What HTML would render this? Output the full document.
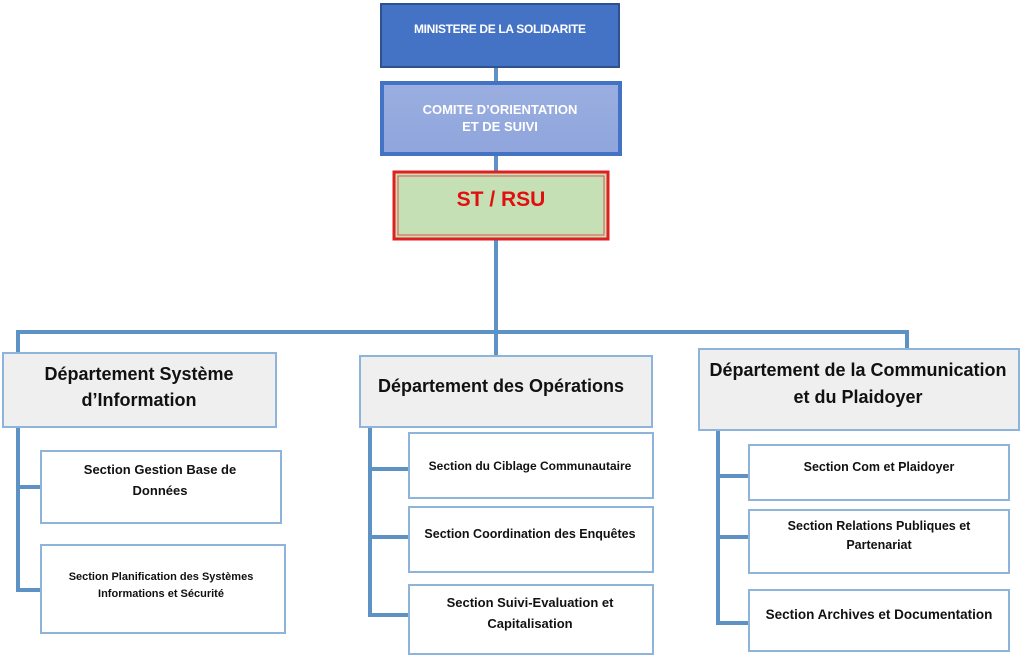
<!DOCTYPE html>
<html><head><meta charset="utf-8"><style>
html,body{margin:0;padding:0;background:#fff;}
svg text{font-family:"Liberation Sans",Arial,sans-serif;font-weight:bold;}
</style></head><body>
<svg width="1024" height="658" viewBox="0 0 1024 658" xmlns="http://www.w3.org/2000/svg">
<defs>
<linearGradient id="g2" x1="0" y1="0" x2="0" y2="1"><stop offset="0" stop-color="#9aaee0"/><stop offset="1" stop-color="#8fa5dc"/></linearGradient>
</defs>
<g stroke="#5f92c4" stroke-width="4" fill="none">
<line x1="496" y1="66" x2="496" y2="84"/>
<line x1="496" y1="154" x2="496" y2="172"/>
<line x1="496" y1="240" x2="496" y2="356"/>
<polyline points="18,353 18,332 907,332 907,349"/>
<polyline points="18,427 18,590 40,590"/>
<line x1="18" y1="487" x2="40" y2="487"/>
<polyline points="370,427 370,615 408,615"/>
<line x1="370" y1="469" x2="408" y2="469"/>
<line x1="370" y1="537" x2="408" y2="537"/>
<polyline points="718,430 718,623 748,623"/>
<line x1="718" y1="476" x2="748" y2="476"/>
<line x1="718" y1="537" x2="748" y2="537"/>
</g>
<rect x="381" y="4" width="238" height="63" fill="#4472c4" stroke="#2f528f" stroke-width="2"/>
<text x="500" y="33" font-size="12" fill="#fff" text-anchor="middle" textLength="172">MINISTERE DE LA SOLIDARITE</text>
<rect x="382" y="83" width="238" height="71" fill="url(#g2)" stroke="#4472c4" stroke-width="4"/>
<text x="500" y="114" font-size="13" fill="#fff" text-anchor="middle">COMITE D’ORIENTATION</text>
<text x="500" y="131" font-size="13" fill="#fff" text-anchor="middle">ET DE SUIVI</text>
<rect x="394" y="172" width="214" height="67" fill="#c5e0b4" stroke="#e02020" stroke-width="3"/>
<rect x="398" y="176" width="206" height="59" fill="none" stroke="#e05050" stroke-width="1"/>
<text x="501" y="206" font-size="21" fill="#e01010" text-anchor="middle">ST / RSU</text>
<g fill="#efefef" stroke="#8eb4dc" stroke-width="2">
<rect x="3" y="353" width="273" height="74"/>
<rect x="360" y="356" width="292" height="71"/>
<rect x="699" y="349" width="320" height="81"/>
</g>
<g fill="#fff" stroke="#8eb4dc" stroke-width="2">
<rect x="41" y="451" width="240" height="72"/>
<rect x="41" y="545" width="244" height="88"/>
<rect x="409" y="433" width="244" height="65"/>
<rect x="409" y="507" width="244" height="65"/>
<rect x="409" y="585" width="244" height="69"/>
<rect x="749" y="445" width="260" height="55"/>
<rect x="749" y="510" width="260" height="63"/>
<rect x="749" y="590" width="260" height="61"/>
</g>
<g fill="#111" text-anchor="middle">
<text x="139" y="380" font-size="18">Département  Système</text>
<text x="139" y="406" font-size="18">d’Information</text>
<text x="501" y="392" font-size="18">Département  des Opérations</text>
<text x="858" y="376" font-size="18">Département  de la Communication</text>
<text x="858" y="403" font-size="18">et du Plaidoyer</text>
<text x="160" y="474" font-size="13">Section Gestion  Base de</text>
<text x="160" y="495" font-size="13">Données</text>
<text x="161" y="580" font-size="11">Section Planification des Systèmes</text>
<text x="161" y="597" font-size="11">Informations et Sécurité</text>
<text x="530" y="470" font-size="12">Section du Ciblage Communautaire</text>
<text x="530" y="538" font-size="12.5">Section Coordination des Enquêtes</text>
<text x="530" y="607" font-size="13">Section Suivi-Evaluation  et</text>
<text x="530" y="628" font-size="13">Capitalisation</text>
<text x="879" y="471" font-size="12.5">Section Com et Plaidoyer</text>
<text x="879" y="530" font-size="12.5">Section Relations Publiques et</text>
<text x="879" y="549" font-size="12.5">Partenariat</text>
<text x="879" y="619" font-size="13.5">Section Archives  et Documentation</text>
</g>
</svg>
</body></html>
